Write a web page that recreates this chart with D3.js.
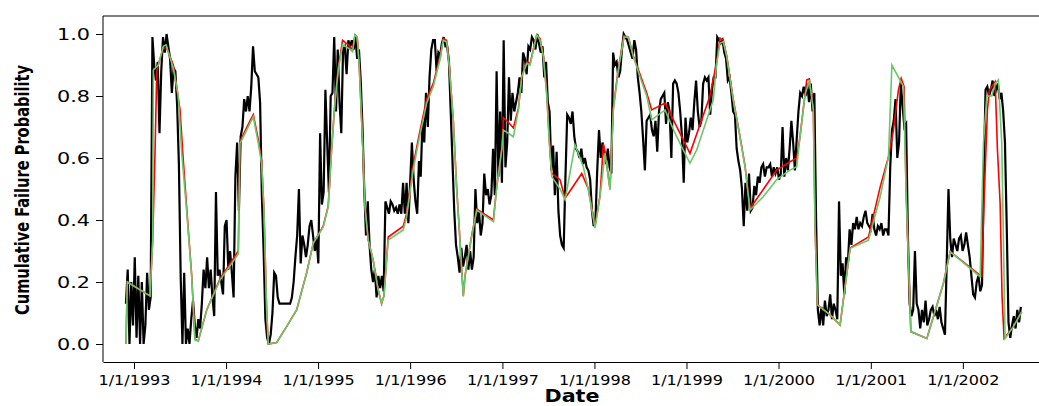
<!DOCTYPE html>
<html>
<head>
<meta charset="utf-8">
<script src="https://cdn.jsdelivr.net/npm/d3@7"></script>
<style>
  html, body { margin: 0; padding: 0; background: #fff; }
  svg { display: block; }
</style>
</head>
<body>
<svg id="chart" width="1039" height="406"></svg>
<script>
// ---- data -------------------------------------------------------------
// Observed cumulative failure probability, one value per week from seriesStart.
const seriesStart = "1992-11-30";
const weeklyProbability = [
  .13,.24,0,.20,.06,.28,.02,.22,0,.20,0,.06,.23,.11,.15,
  .99,.90,.85,.91,.68,.88,.99,.94,1.0,.96,.92,.81,.89,.88,.77,
  .58,.22,0,.23,0,.05,0,.08,.14,.06,.02,.08,.05,.13,.24,
  .18,.28,.18,.24,.15,.09,.49,.22,.24,.20,.16,.38,.40,.24,.30,
  .23,.15,.54,.65,.43,.67,.70,.79,.75,.80,.75,.83,.96,.88,.87,
  .86,.78,.48,.30,.08,.02,0,.03,.10,.23,.22,.15,.13,.13,.13,
  .13,.13,.13,.13,.15,.20,.28,.35,.50,.26,.35,.32,.28,.32,.38,
  .40,.35,.30,.34,.26,.68,.45,.49,.82,.65,.49,
  .80,.81,.99,.75,.95,.78,.68,.95,.96,.87,.98,.96,.98,.95,.99,
  .92,.95,.85,.70,.50,.35,.46,.32,.24,.20,.24,.15,.22,.18,.22,
  .17,.46,.44,.42,.46,.45,.43,.44,.42,.45,.42,.52,.42,.52,.39,
  .52,.65,.53,.46,.42,.59,.54,.72,.65,.81,.70,.86,.95,.98,.98,
  .88,.94,.93,.97,.99,.96,.96,.91,.75,.59,.43,.32,.28,.23,.31,
  .25,.28,.32,.24,.30,.24,.28,.50,.39,.43,.35,.39,.55,.48,.50,
  .45,.48,.63,.48,.88,.54,.75,.52,.98,.57,.65,.86,.72,.81,.75,
  .78,.81,.86,.81,.94,.92,.87,.96,.95,.99,.98,.95,1.0,.97,.94,
  .96,.86,.91,.78,
  .75,.56,.64,.48,.62,.43,.35,.32,.31,.54,.74,.73,.71,.75,.67,
  .63,.62,.60,.63,.58,.60,.57,.56,.53,.43,.38,.40,.56,.69,.60,
  .65,.62,.58,.63,.57,.55,.94,.90,.91,.86,.88,.95,1.0,.99,.98,
  .96,.94,.92,.98,.95,.86,.81,.75,.66,.56,.72,.73,.74,.69,.67,
  .72,.62,.75,.79,.80,.81,.71,.78,.75,.60,.84,.85,.84,.81,.75,
  .67,.52,.73,.65,.68,.73,.69,.78,.85,.75,.70,.72,.84,.86,.85,
  .86,.74,.82,.86,.86,.99,.98,.97,.98,.94,.92,.85,.86,.81,.75,
  .74,.63,.59,.56,.50,.38,.52,.43,.55,.43,.44,.51,.48,.54,.52,
  .57,.58,.54,.57,.57,.58,.54,.57,.55,.57,.53,
  .55,.70,.54,.60,.56,.63,.72,.65,.56,.66,.75,.81,.80,.83,.80,
  .84,.78,.84,.75,.81,.40,.11,.06,.12,.06,.14,.09,.11,.16,.08,
  .13,.11,.08,.46,.22,.26,.16,.28,.26,.37,.32,.39,.37,.41,.37,
  .39,.38,.41,.43,.39,.38,.37,.42,.37,.35,.38,.37,.39,.35,.37,
  .37,.35,.57,.69,.72,.79,.60,.65,.84,.77,.70,.71,.35,.13,.09,
  .11,.30,.13,.11,.05,.11,.07,.14,.06,.08,.11,.12,.09,.11,.08,
  .12,.07,.05,.03,.26,.50,.34,.28,.34,.32,.30,.34,.35,.30,.32,
  .36,.32,.28,.22,.16,.15,.20,.22,.17,.19,.54,.82,.83,.80,.82,
  .85,.80,.82,.84,.79,.81,.75,.65,.38,.07,.02,.06,.09,.05,.11,
  .07,.12
];

// Model estimate (red), dates as decimal years.
const redYears = [
  1992.913,1992.927,1993.174,1993.203,1993.228,1993.247,1993.264,1993.318,1993.355,1993.427,
  1993.500,1993.535,1993.572,1993.627,1993.662,1993.698,1993.790,1993.934,1994.133,1994.151,
  1994.170,1994.260,1994.296,1994.350,1994.387,1994.412,1994.441,1994.459,1994.550,1994.658,
  1994.767,1994.876,1994.947,1995.056,1995.110,1995.147,1995.183,1995.219,1995.266,1995.327,
  1995.375,1995.400,1995.425,1995.447,1995.484,1995.509,1995.545,1995.599,1995.653,1995.690,
  1995.715,1995.762,1995.925,1995.962,1996.033,1996.088,1996.179,1996.250,1996.323,1996.359,
  1996.396,1996.424,1996.468,1996.505,1996.540,1996.576,1996.595,1996.667,1996.722,1996.902,
  1996.939,1996.993,1997.011,1997.065,1997.119,1997.174,1997.210,1997.265,1997.301,1997.336,
  1997.373,1997.409,1997.445,1997.482,1997.510,1997.536,1997.626,1997.681,1997.862,1997.934,
  1998.006,1998.061,1998.097,1998.115,1998.169,1998.205,1998.260,1998.321,1998.368,1998.422,
  1998.495,1998.568,1998.622,1998.767,1999.038,1999.255,1999.328,1999.364,1999.400,1999.437,
  1999.508,1999.581,1999.636,1999.690,1999.980,2000.124,2000.197,2000.233,2000.306,2000.334,
  2000.377,2000.396,2000.421,2000.559,2000.667,2000.776,2000.975,2001.102,2001.192,2001.246,
  2001.300,2001.330,2001.362,2001.384,2001.435,2001.609,2001.789,2001.862,2002.206,2002.231,
  2002.267,2002.289,2002.351,2002.376,2002.405,2002.426,2002.448,2002.549,2002.640
];
const redValues = [
  0,.20,.155,.335,.615,.878,.90,.955,.955,.90,
  .755,.594,.44,.22,.015,.01,.11,.21,.30,.655,
  .665,.72,.74,.66,.59,.43,.11,0,.005,.056,
  .11,.23,.325,.38,.445,.63,.78,.89,.98,.965,
  .95,.997,.99,.90,.65,.445,.335,.27,.175,.13,
  .155,.345,.38,.42,.575,.66,.79,.84,.925,.985,
  .98,.90,.72,.50,.335,.155,.22,.35,.435,.40,
  .51,.63,.73,.715,.697,.76,.865,.91,.905,.95,
  .997,.985,.93,.81,.655,.55,.53,.47,.55,.50,
  .38,.48,.645,.62,.50,.76,.89,.995,.99,.93,
  .87,.81,.755,.777,.615,.80,.91,.987,.98,.93,
  .79,.67,.575,.437,.561,.588,.599,.67,.852,.855,
  .76,.38,.126,.094,.061,.31,.345,.507,.604,.69,
  .82,.857,.83,.486,.04,.018,.196,.298,.217,.465,
  .755,.82,.846,.626,.454,.153,.018,.056,.104
];

// Model estimate (green), dates as decimal years.
const greenYears = [
  1992.913,1992.927,1993.174,1993.203,1993.210,1993.264,1993.318,1993.348,1993.427,1993.481,
  1993.518,1993.572,1993.627,1993.662,1993.698,1993.790,1993.934,1994.133,1994.151,1994.170,
  1994.260,1994.296,1994.350,1994.387,1994.412,1994.441,1994.459,1994.550,1994.658,1994.767,
  1994.876,1994.947,1995.056,1995.110,1995.147,1995.183,1995.219,1995.266,1995.327,1995.375,
  1995.400,1995.425,1995.447,1995.484,1995.509,1995.545,1995.599,1995.653,1995.690,1995.715,
  1995.762,1995.925,1995.962,1996.033,1996.088,1996.179,1996.250,1996.323,1996.359,1996.396,
  1996.424,1996.468,1996.505,1996.540,1996.576,1996.595,1996.667,1996.722,1996.902,1996.939,
  1996.993,1997.011,1997.065,1997.119,1997.174,1997.210,1997.265,1997.301,1997.336,1997.373,
  1997.409,1997.445,1997.482,1997.510,1997.536,1997.626,1997.681,1997.789,1997.879,1997.934,
  1998.006,1998.061,1998.115,1998.169,1998.205,1998.260,1998.321,1998.368,1998.422,1998.495,
  1998.568,1998.622,1998.767,1998.875,1998.965,1999.038,1999.111,1999.220,1999.291,1999.328,
  1999.364,1999.400,1999.437,1999.508,1999.581,1999.636,1999.690,1999.834,1999.980,2000.124,
  2000.197,2000.233,2000.287,2000.334,2000.377,2000.396,2000.421,2000.559,2000.667,2000.776,
  2000.975,2001.102,2001.192,2001.229,2001.355,2001.384,2001.435,2001.609,2001.789,2001.862,
  2002.188,2002.224,2002.260,2002.315,2002.351,2002.386,2002.423,2002.459,2002.549,2002.640
];
const greenValues = [
  0,.20,.155,.335,.884,.90,.96,.965,.89,.80,
  .616,.43,.217,.013,.01,.11,.206,.29,.648,.658,
  .712,.733,.648,.58,.43,.11,0,.005,.056,.11,
  .23,.325,.378,.443,.626,.777,.884,.965,.955,.943,
  .997,.99,.895,.648,.443,.335,.27,.174,.132,.153,
  .335,.368,.41,.561,.648,.777,.83,.916,.98,.975,
  .895,.72,.497,.335,.153,.22,.346,.432,.395,.507,
  .626,.69,.68,.668,.755,.862,.905,.90,.948,.997,
  .98,.927,.80,.648,.54,.50,.465,.642,.572,.497,
  .374,.475,.616,.497,.755,.884,.99,.99,.927,.862,
  .80,.723,.755,.68,.626,.583,.626,.723,.787,.905,
  .97,.975,.927,.787,.668,.572,.432,.475,.53,.561,
  .572,.668,.803,.852,.755,.378,.126,.094,.061,.309,
  .335,.475,.604,.90,.83,.486,.04,.018,.196,.298,
  .217,.648,.80,.80,.84,.852,.648,.018,.056,.104
];

const tickYears = [1993,1994,1995,1996,1997,1998,1999,2000,2001,2002];
const yTickValues = [0, 0.2, 0.4, 0.6, 0.8, 1.0];
const axisTitleX = "Date";
const axisTitleY = "Cumulative Failure Probability";

// ---- helpers -----------------------------------------------------------
function fromDecimalYear(v) {
  const yr = Math.floor(v);
  const a = new Date(yr, 0, 1), b = new Date(yr + 1, 0, 1);
  return new Date(+a + (v - yr) * (b - a));
}

const firstWeek = d3.timeParse("%Y-%m-%d")(seriesStart);
const observed = weeklyProbability.map((v, i) => ({ date: d3.timeDay.offset(firstWeek, 7 * i), value: v }));
const red = redYears.map((yr, i) => ({ date: fromDecimalYear(yr), value: redValues[i] }));
const green = greenYears.map((yr, i) => ({ date: fromDecimalYear(yr), value: greenValues[i] }));

// ---- layout ------------------------------------------------------------
const plotLeft = 103, plotRight = 1039, plotTop = 16, plotBottom = 362;
const svg = d3.select("#chart");

const x = d3.scaleTime()
  .domain([new Date(1992, 7, 31), new Date(2002, 9, 30)])
  .range([plotLeft, plotRight]);
const y = d3.scaleLinear().domain([0, 1]).range([344, 34]);

// frame: grey top rule and black left spine
svg.append("line")
  .attr("x1", plotLeft).attr("x2", plotRight).attr("y1", plotTop).attr("y2", plotTop)
  .attr("stroke", "#555").attr("stroke-width", 1.6);
svg.append("line")
  .attr("x1", plotLeft).attr("x2", plotLeft).attr("y1", plotTop).attr("y2", plotBottom)
  .attr("stroke", "#000").attr("stroke-width", 1);

// series
const line = d3.line().x(d => x(d.date)).y(d => y(d.value));
const plot = svg.append("g");
plot.append("path").datum(observed)
  .attr("d", line).attr("fill", "none")
  .attr("stroke", "#000").attr("stroke-width", 2.2);
plot.append("path").datum(red)
  .attr("d", line).attr("fill", "none")
  .attr("stroke", "#ff0000").attr("stroke-width", 1.6);
plot.append("path").datum(green)
  .attr("d", line).attr("fill", "none")
  .attr("stroke", "#6cc76a").attr("stroke-width", 1.6);

// x axis
const xAxis = d3.axisBottom(x)
  .tickValues(tickYears.map(yr => new Date(yr, 0, 1)))
  .tickFormat(d => `1/1/${d.getFullYear()}`)
  .tickSizeInner(7).tickSizeOuter(0).tickPadding(6);
const gx = svg.append("g").attr("transform", `translate(0,${plotBottom})`).call(xAxis);
gx.select(".domain").attr("stroke", "#000");
gx.selectAll(".tick line").attr("stroke", "#000");
gx.selectAll(".tick text")
  .attr("font-family", "'DejaVu Sans', Verdana, sans-serif")
  .attr("font-size", 14.7).attr("fill", "#000")
  .attr("textLength", 72).attr("lengthAdjust", "spacingAndGlyphs");

// y axis
const yAxis = d3.axisLeft(y)
  .tickValues(yTickValues)
  .tickFormat(d3.format(".1f"))
  .tickSizeInner(7).tickSizeOuter(0).tickPadding(6);
const gy = svg.append("g").attr("transform", `translate(${plotLeft},0)`).call(yAxis);
gy.select(".domain").remove();
gy.selectAll(".tick line").attr("stroke", "#000");
gy.selectAll(".tick text")
  .attr("font-family", "'DejaVu Sans', Verdana, sans-serif")
  .attr("font-size", 16).attr("fill", "#000")
  .attr("textLength", 33).attr("lengthAdjust", "spacingAndGlyphs");

// axis titles
svg.append("text")
  .attr("x", 572).attr("y", 401.5)
  .attr("text-anchor", "middle")
  .attr("font-family", "'DejaVu Sans', Verdana, sans-serif")
  .attr("font-weight", "bold").attr("font-size", 17)
  .attr("textLength", 55).attr("lengthAdjust", "spacingAndGlyphs")
  .text(axisTitleX);

svg.append("text")
  .attr("transform", "translate(29,190) rotate(-90)")
  .attr("text-anchor", "middle")
  .attr("font-family", "'Liberation Sans Narrow', 'DejaVu Sans Condensed', sans-serif")
  .attr("font-weight", "bold").attr("font-size", 20)
  .attr("textLength", 250).attr("lengthAdjust", "spacingAndGlyphs")
  .text(axisTitleY);
</script>
</body>
</html>
